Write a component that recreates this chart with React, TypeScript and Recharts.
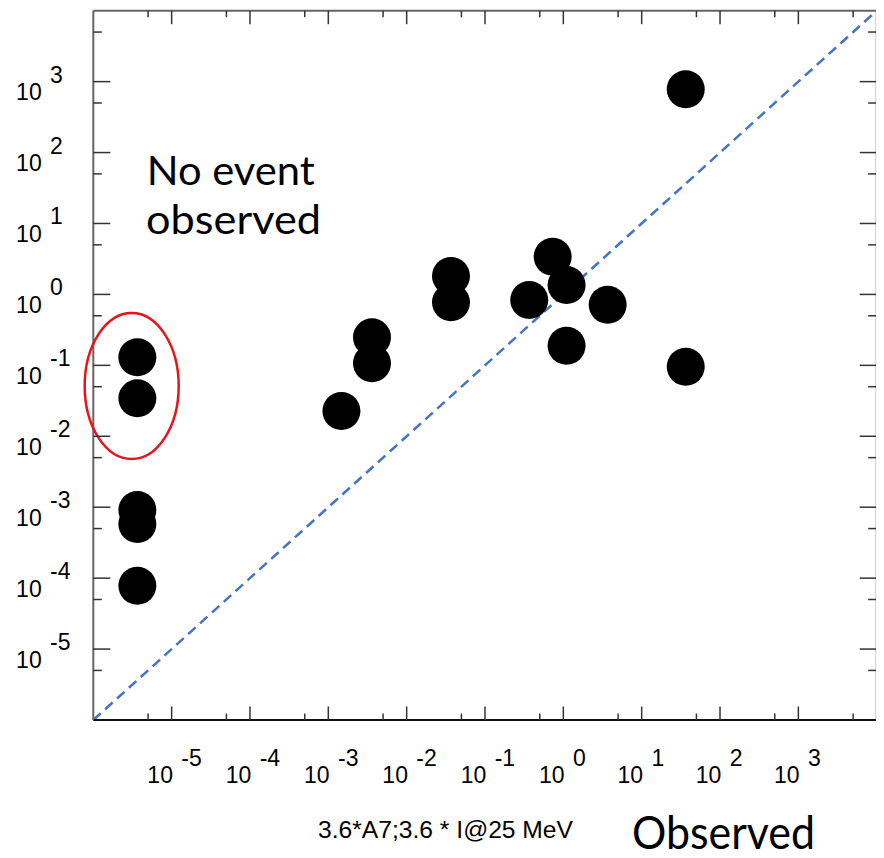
import { ScatterChart, Scatter, XAxis, YAxis, ReferenceLine, ReferenceDot } from 'recharts';

// observed vs predicted (log-log)
const observed = [3.65e-6, 3.65e-6, 3.65e-6, 3.65e-6, 3.65e-6, 0.00147, 0.00361, 0.00361, 0.0368, 0.0368, 0.367, 0.731, 1.1, 1.1, 3.68, 36.5, 36.5];
const predicted = [0.13, 0.0343, 9.14e-4, 5.8e-4, 7.82e-5, 0.0227, 0.248, 0.107, 1.82, 0.774, 0.834, 3.4, 1.36, 0.189, 0.716, 780, 0.0957];

const domain = [1e-6, 1e4];
const identity = [1e-6, 1e4];

const majorTicks = [1e-5, 1e-4, 1e-3, 1e-2, 1e-1, 1, 10, 100, 1000];
const exponents = ['-5', '-4', '-3', '-2', '-1', '0', '1', '2', '3'];
const minorTicks = [5e-6, 5e-5, 5e-4, 5e-3, 5e-2, 0.5, 5, 50, 500, 5000];
const allTicks = [...minorTicks, ...majorTicks].sort((a, b) => a - b);

// the circled "no event observed" group
const circledX = 3.09e-6;
const circledY = 0.0512;

const data = observed.map((x, i) => ({ x, y: predicted[i] }));

const FONT = '"Liberation Sans", Arial, sans-serif';
const TICK = '#333';

const BottomTick = (props: any) => {
  const { x, y, payload } = props;
  const i = majorTicks.indexOf(payload.value);
  const major = i >= 0;
  return (
    <g>
      <line x1={x} x2={x} y1={y} y2={y - (major ? 13.5 : 6.5)} stroke={TICK} strokeWidth={1.5} />
      {major && (
        <>
          <text x={x + 1.3} y={y + 63} textAnchor="end" fontSize={23} fontFamily={FONT} fill="#000">10</text>
          <text x={x + 9.7} y={y + 46} textAnchor="start" fontSize={23} fontFamily={FONT} fill="#000">{exponents[i]}</text>
        </>
      )}
    </g>
  );
};

const TopTick = (props: any) => {
  const { x, y, payload } = props;
  const major = majorTicks.indexOf(payload.value) >= 0;
  return <line x1={x} x2={x} y1={y} y2={y + (major ? 13.5 : 6.5)} stroke={TICK} strokeWidth={1.5} />;
};

const LeftTick = (props: any) => {
  const { x, y, payload } = props;
  const i = majorTicks.indexOf(payload.value);
  const major = i >= 0;
  return (
    <g>
      <line x1={x} x2={x + (major ? 17 : 8.5)} y1={y} y2={y} stroke={TICK} strokeWidth={1.5} />
      {major && (
        <>
          <text x={x - 51.6} y={y + 18.5} textAnchor="end" fontSize={23} fontFamily={FONT} fill="#000">10</text>
          <text x={x - 43.3} y={y + 1} textAnchor="start" fontSize={23} fontFamily={FONT} fill="#000">{exponents[i]}</text>
        </>
      )}
    </g>
  );
};

const RightTick = (props: any) => {
  const { x, y, payload } = props;
  const major = majorTicks.indexOf(payload.value) >= 0;
  return <line x1={x} x2={x - (major ? 17 : 8.5)} y1={y} y2={y} stroke={TICK} strokeWidth={1.5} />;
};

const Dot = (props: any) => <circle cx={props.cx} cy={props.cy} r={19} fill="#000" />;
const NoDot = () => <g />;

const Ellipse = (props: any) => (
  <ellipse cx={props.cx} cy={props.cy} rx={47} ry={73} fill="none" stroke="#e8141c" strokeWidth={2.5} />
);

export default function App() {
  return (
    <div style={{ position: 'relative', width: 876, height: 850 }}>
      <ScatterChart width={876} height={850} margin={{ top: 1.7, right: 6.3, left: 0, bottom: 0 }}>
        <XAxis
          xAxisId="b"
          dataKey="x"
          type="number"
          scale="log"
          domain={domain}
          allowDataOverflow
          ticks={allTicks}
          interval={0}
          height={138}
          tickSize={0}
          tickMargin={0}
          tickLine={false}
          tick={<BottomTick />}
          axisLine={{ stroke: '#111', strokeWidth: 2 }}
        />
        <XAxis
          xAxisId="t"
          dataKey="x"
          orientation="top"
          type="number"
          scale="log"
          domain={domain}
          allowDataOverflow
          ticks={allTicks}
          interval={0}
          height={1}
          tickSize={0}
          tickMargin={0}
          tickLine={false}
          tick={<TopTick />}
          axisLine={{ stroke: '#666', strokeWidth: 2 }}
        />
        <YAxis
          yAxisId="l"
          dataKey="y"
          type="number"
          scale="log"
          domain={domain}
          allowDataOverflow
          ticks={allTicks}
          interval={0}
          width={85.3}
          tickSize={0}
          tickMargin={0}
          tickLine={false}
          tick={<LeftTick />}
          axisLine={{ stroke: '#666', strokeWidth: 2 }}
        />
        <YAxis
          yAxisId="r"
          dataKey="y"
          orientation="right"
          type="number"
          scale="log"
          domain={domain}
          allowDataOverflow
          ticks={allTicks}
          interval={0}
          width={1}
          tickSize={0}
          tickMargin={0}
          tickLine={false}
          tick={<RightTick />}
          axisLine={{ stroke: '#666', strokeWidth: 2 }}
        />
        <ReferenceLine
          xAxisId="b"
          yAxisId="l"
          segment={[{ x: identity[0], y: identity[0] }, { x: identity[1], y: identity[1] }]}
          stroke="#4472C4"
          strokeWidth={2.5}
          strokeDasharray="10 6"
          ifOverflow="visible"
        />
        <Scatter xAxisId="t" yAxisId="r" data={data} shape={<NoDot />} isAnimationActive={false} />
        <Scatter xAxisId="b" yAxisId="l" data={data} shape={<Dot />} isAnimationActive={false} />
        <ReferenceDot xAxisId="b" yAxisId="l" x={circledX} y={circledY} ifOverflow="visible" shape={<Ellipse />} />
      </ScatterChart>
      <svg width={876} height={850} style={{ position: 'absolute', left: 0, top: 0, pointerEvents: 'none' }}>
        <text x={138.7} y={177} fontSize={40} fontFamily="Lato, sans-serif" textLength={168} lengthAdjust="spacingAndGlyphs">No event</text>
        <text x={138} y={226} fontSize={40} fontFamily="Lato, sans-serif" textLength={175} lengthAdjust="spacingAndGlyphs">observed</text>
        <text x={310} y={830} fontSize={23} fontFamily={FONT} textLength={255} lengthAdjust="spacingAndGlyphs">3.6*A7;3.6 * I@25 MeV</text>
        <text x={624} y={841} fontSize={46} fontFamily="Lato, sans-serif" textLength={183} lengthAdjust="spacingAndGlyphs">Observed</text>
      </svg>
    </div>
  );
}
